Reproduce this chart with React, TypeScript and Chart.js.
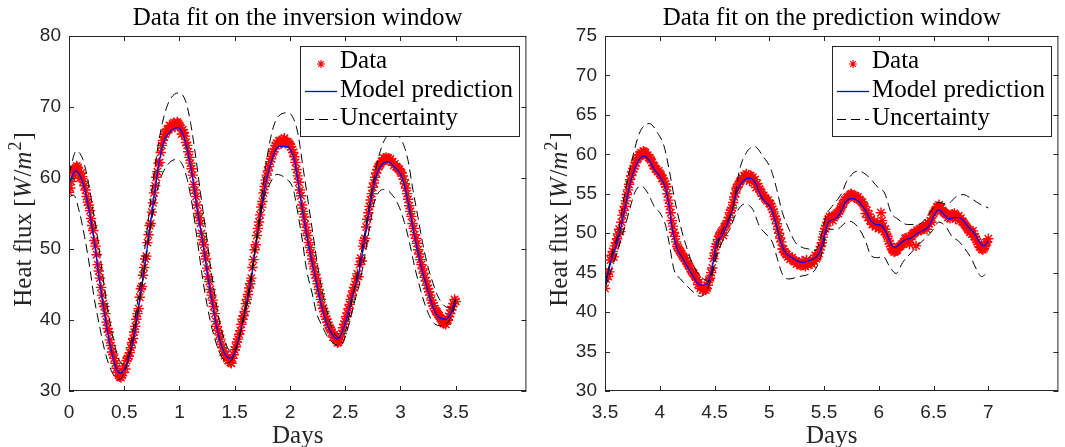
import React, { useEffect, useRef } from "react";
import { Chart, registerables } from "chart.js";

Chart.register(...registerables);

// ---------- tick labels ----------
const LEFT_X_TICKS = [0, 0.5, 1, 1.5, 2, 2.5, 3, 3.5];
const RIGHT_X_TICKS = [3.5, 4, 4.5, 5, 5.5, 6, 6.5, 7];
const LEFT_Y_TICKS = [30, 40, 50, 60, 70, 80];
const RIGHT_Y_TICKS = [30, 35, 40, 45, 50, 55, 60, 65, 70, 75];

// ---------- measured data (two interleaved sample sets, every 0.02 day) ----------
const DATA_STEP = 0.02;
const LEFT_DATA_START = 0;
const leftData = [
  58.0, 59.5, 61.2, 61.4, 61.5, 60.0, 60.2, 58.9, 57.4, 56.2,
  54.3, 52.6, 50.4, 47.8, 45.9, 43.5, 41.9, 39.7, 38.3, 36.4,
  35.2, 33.9, 32.6, 32.0, 32.2, 33.5, 34.3, 34.9, 36.1, 37.4,
  39.1, 40.9, 43.2, 44.7, 47.4, 49.0, 52.0, 53.6, 56.5, 58.9,
  60.9, 62.2, 64.6, 65.8, 66.5, 66.9, 67.3, 67.6, 67.2, 67.9,
  67.4, 66.2, 66.4, 65.0, 63.7, 62.1, 60.4, 58.3, 56.2, 54.4,
  52.2, 50.6, 48.6, 46.1, 44.3, 42.8, 40.9, 39.1, 37.9, 36.6,
  35.6, 35.1, 34.3, 34.0, 34.6, 35.8, 36.9, 38.0, 39.4, 40.6,
  42.3, 43.6, 45.1, 47.4, 49.9, 51.9, 53.8, 55.9, 57.9, 59.7,
  61.0, 62.3, 63.4, 64.1, 64.9, 65.2, 64.8, 65.4, 64.9, 65.1,
  64.7, 64.0, 63.0, 61.2, 59.4, 57.5, 55.3, 53.5, 51.9, 50.2,
  48.6, 47.2, 45.9, 44.3, 42.9, 41.6, 40.5, 39.7, 38.9, 38.3,
  37.9, 37.1, 36.9, 37.6, 38.9, 39.8, 41.0, 42.2, 43.5, 44.6,
  45.8, 46.1, 48.7, 50.4, 51.5, 54.2, 56.0, 57.8, 59.3, 60.7,
  61.6, 62.0, 62.4, 62.7, 62.6, 62.5, 62.2, 61.8, 61.6, 61.3,
  60.9, 60.3, 59.2, 57.8, 56.1, 54.6, 52.9, 51.5, 49.9, 48.5,
  47.2, 46.0, 44.9, 44.0, 42.8, 42.0, 41.3, 40.8, 40.3, 39.8,
  39.6, 39.9, 40.5, 41.4, 42.3, 42.6,
];
const LEFT_DATA2_START = 0.01;
const leftData2 = [
  58.6, 60.8, 60.3, 61.7, 60.9, 60.7, 59.5, 58.3, 56.6, 55.4,
  53.3, 51.2, 49.2, 46.9, 44.6, 42.3, 40.9, 38.8, 37.2, 35.5,
  34.6, 33.2, 32.2, 31.9, 32.6, 33.1, 34.6, 35.4, 36.8, 38.3,
  40.1, 41.6, 44.4, 46.3, 48.6, 50.9, 53.3, 55.2, 57.9, 60.1,
  62.1, 63.6, 65.3, 66.2, 66.8, 67.4, 67.0, 67.8, 67.6, 67.7,
  67.1, 66.8, 65.9, 64.6, 62.9, 61.3, 59.1, 57.4, 55.0, 53.6,
  51.3, 49.4, 47.3, 45.4, 43.5, 41.9, 39.8, 38.5, 37.3, 36.1,
  35.0, 34.6, 34.3, 33.9, 35.1, 36.2, 37.3, 38.5, 40.1, 41.2,
  42.9, 44.5, 45.9, 48.5, 50.6, 52.9, 54.8, 56.7, 58.8, 60.4,
  61.6, 62.7, 63.7, 64.6, 64.8, 65.3, 65.0, 65.6, 65.0, 64.9,
  64.4, 63.6, 62.2, 60.3, 58.3, 56.2, 54.5, 52.6, 50.9, 49.5,
  47.9, 46.4, 45.1, 43.7, 42.1, 41.2, 40.1, 39.2, 38.6, 37.6,
  37.5, 36.8, 37.2, 38.1, 39.4, 40.5, 41.6, 42.9, 44.1, 45.0,
  46.5, 47.8, 48.3, 51.2, 53.1, 55.1, 56.9, 58.7, 60.1, 61.2,
  61.8, 62.3, 62.8, 62.9, 62.8, 62.7, 62.3, 62.0, 61.5, 61.2,
  60.7, 59.8, 58.6, 57.0, 55.3, 53.6, 52.0, 50.8, 49.3, 47.8,
  46.6, 45.5, 44.4, 43.5, 42.4, 41.6, 41.1, 40.6, 40.1, 39.5,
  39.4, 40.0, 40.9, 41.9, 42.9,
];
const RIGHT_DATA_START = 3.5;
const rightData = [
  43.0, 44.9, 45.1, 47.2, 47.0, 48.8, 49.9, 50.2, 52.3, 53.4,
  54.9, 56.2, 57.3, 58.2, 59.0, 59.5, 60.0, 59.9, 60.3, 59.8,
  59.6, 59.3, 58.6, 58.2, 57.8, 57.6, 57.0, 56.6, 55.9, 54.2,
  52.6, 50.9, 49.6, 48.3, 47.8, 47.4, 46.9, 46.5, 46.0, 45.5,
  45.0, 44.6, 44.1, 43.8, 43.2, 42.9, 42.8, 43.4, 44.3, 45.6,
  47.5, 48.6, 49.6, 50.1, 49.7, 51.0, 51.6, 52.6, 53.2, 54.6,
  55.7, 56.2, 56.7, 56.9, 57.3, 57.1, 56.6, 57.0, 56.4, 55.8,
  55.9, 55.3, 54.7, 54.5, 54.1, 53.8, 53.4, 52.7, 51.8, 50.5,
  49.4, 48.0, 47.6, 47.3, 47.1, 46.8, 46.6, 46.4, 46.2, 46.0,
  46.5, 46.1, 46.6, 46.3, 46.2, 46.6, 47.2, 47.0, 47.9, 48.8,
  50.2, 50.9, 51.8, 51.9, 51.6, 52.2, 52.6, 52.8, 53.3, 53.9,
  54.3, 54.6, 54.9, 54.8, 54.5, 54.4, 54.3, 54.0, 53.6, 52.5,
  52.0, 51.6, 51.1, 51.5, 51.0, 50.6, 52.6, 50.9, 50.5, 49.6,
  48.7, 48.0, 47.6, 47.8, 48.2, 48.4, 48.7, 49.3, 49.0, 48.6,
  49.7, 50.0, 48.4, 50.3, 50.4, 50.6, 50.7, 50.5, 51.2, 51.4,
  52.5, 53.0, 53.4, 53.1, 52.9, 52.6, 52.4, 52.1, 52.2, 52.3,
  51.8, 52.1, 51.6, 51.5, 51.2, 50.8, 50.4, 50.2, 50.3, 49.5,
  48.9, 48.3, 48.0, 48.1, 48.8, 49.3,
];
const RIGHT_DATA2_START = 3.51;
const rightData2 = [
  44.2, 44.5, 46.6, 47.7, 48.4, 49.3, 50.5, 51.4, 52.9, 54.1,
  55.5, 56.8, 57.8, 58.5, 59.3, 59.9, 60.2, 60.4, 60.2, 59.9,
  59.5, 59.0, 58.5, 58.1, 57.9, 57.4, 56.9, 56.2, 55.0, 53.4,
  51.6, 50.1, 48.9, 48.1, 47.6, 47.1, 46.8, 46.2, 45.8, 45.2,
  44.9, 44.4, 43.5, 43.0, 42.8, 43.1, 43.0, 44.1, 45.0, 46.8,
  48.3, 49.2, 49.8, 50.3, 50.8, 51.2, 52.0, 52.9, 53.9, 55.1,
  55.9, 56.5, 57.0, 57.3, 57.5, 57.4, 57.3, 57.1, 56.8, 56.3,
  55.6, 55.1, 54.8, 54.3, 54.2, 53.7, 53.0, 52.1, 51.2, 50.0,
  48.9, 48.0, 47.4, 47.0, 46.7, 46.9, 46.4, 46.1, 46.3, 45.9,
  46.0, 45.8, 46.0, 46.4, 46.1, 46.5, 46.8, 47.5, 48.3, 49.5,
  50.6, 51.4, 52.1, 52.1, 52.0, 52.4, 52.5, 53.1, 53.7, 54.2,
  54.5, 54.7, 55.0, 54.8, 54.7, 54.6, 54.2, 53.9, 53.4, 52.9,
  52.4, 51.8, 51.2, 50.8, 51.2, 50.7, 51.6, 50.2, 49.8, 49.0,
  48.3, 47.8, 47.7, 47.9, 48.3, 48.6, 48.9, 49.4, 49.5, 49.2,
  49.9, 50.1, 50.4, 50.5, 50.4, 50.8, 50.9, 51.3, 51.6, 52.3,
  52.8, 53.3, 53.6, 53.2, 52.7, 52.5, 52.0, 51.9, 52.4, 52.5,
  52.1, 52.2, 51.9, 51.4, 51.0, 50.6, 50.1, 49.9, 49.6, 49.2,
  48.6, 48.2, 47.9, 48.3, 48.9,
];

// ---------- model prediction ----------
const leftModelT = [0, 0.06, 0.126, 0.186, 0.23, 0.27, 0.306, 0.35, 0.396, 0.43, 0.465, 0.5, 0.546, 0.59, 0.636, 0.681, 0.726, 0.771, 0.816, 0.861, 0.921, 0.981, 1.026, 1.07, 1.116, 1.16, 1.206, 1.251, 1.296, 1.341, 1.386, 1.453, 1.506, 1.551, 1.596, 1.641, 1.686, 1.731, 1.776, 1.821, 1.866, 1.911, 1.986, 2.0, 2.04, 2.092, 2.137, 2.182, 2.227, 2.272, 2.317, 2.362, 2.43, 2.482, 2.527, 2.572, 2.617, 2.662, 2.707, 2.752, 2.797, 2.887, 2.947, 2.992, 3.031, 3.07, 3.115, 3.16, 3.2, 3.25, 3.29, 3.336, 3.41, 3.457, 3.5];
const leftModelV = [59.2, 61.0, 59.3, 55.1, 50.9, 46.2, 42.4, 38.2, 34.9, 33.05, 32.5, 33.05, 34.9, 37.7, 42.4, 47.1, 52.3, 57.5, 62.2, 65.2, 66.6, 67.1, 66.4, 64.0, 60.3, 55.6, 51.4, 46.7, 42.4, 38.7, 36.1, 34.6, 35.6, 38.2, 41.5, 44.8, 50.0, 54.6, 58.9, 61.7, 63.8, 64.5, 64.4, 64.1, 62.5, 57.5, 53.2, 49.5, 46.2, 42.9, 40.3, 38.5, 37.3, 38.7, 41.0, 43.8, 46.2, 50.0, 54.4, 58.4, 61.0, 62.3, 61.5, 60.8, 59.3, 56.5, 52.8, 49.5, 46.7, 44.1, 42.0, 40.6, 40.1, 41.0, 43.0];
const rightModelT = [3.5, 3.56, 3.62, 3.68, 3.725, 3.77, 3.815, 3.86, 3.905, 3.95, 4.01, 4.055, 4.085, 4.115, 4.16, 4.205, 4.25, 4.295, 4.34, 4.385, 4.43, 4.475, 4.52, 4.565, 4.61, 4.655, 4.7, 4.76, 4.826, 4.88, 4.925, 4.97, 5.015, 5.06, 5.105, 5.15, 5.21, 5.255, 5.3, 5.36, 5.42, 5.465, 5.505, 5.543, 5.603, 5.648, 5.693, 5.753, 5.813, 5.873, 5.933, 5.978, 6.023, 6.068, 6.113, 6.143, 6.188, 6.233, 6.293, 6.353, 6.413, 6.458, 6.503, 6.548, 6.593, 6.638, 6.698, 6.758, 6.818, 6.878, 6.923, 6.958, 7.0];
const rightModelV = [43.3, 46.7, 49.2, 53.0, 56.0, 58.1, 59.4, 59.8, 59.2, 58.1, 57.0, 55.6, 53.4, 50.5, 48.0, 46.9, 45.8, 44.8, 43.7, 43.4, 43.5, 45.4, 48.8, 49.6, 50.9, 52.6, 55.1, 56.6, 57.0, 56.2, 54.7, 53.9, 53.2, 51.3, 48.8, 47.5, 46.9, 46.5, 46.3, 46.5, 46.9, 47.7, 49.8, 51.5, 51.8, 52.6, 53.9, 54.4, 54.1, 53.0, 51.5, 51.1, 51.0, 50.1, 48.6, 48.2, 48.6, 49.1, 49.4, 50.0, 50.4, 50.9, 52.2, 53.0, 52.4, 51.8, 52.0, 51.8, 50.8, 49.9, 48.8, 48.4, 49.0];

// ---------- uncertainty bounds ----------
const leftUpperT = [0, 0.066, 0.126, 0.17, 0.216, 0.26, 0.306, 0.35, 0.396, 0.44, 0.486, 0.53, 0.576, 0.62, 0.666, 0.711, 0.756, 0.801, 0.846, 0.906, 0.996, 1.056, 1.1, 1.146, 1.19, 1.236, 1.28, 1.326, 1.37, 1.416, 1.461, 1.521, 1.566, 1.626, 1.686, 1.731, 1.776, 1.836, 1.896, 1.986, 2.046, 2.076, 2.121, 2.166, 2.211, 2.256, 2.301, 2.346, 2.406, 2.466, 2.512, 2.557, 2.617, 2.677, 2.737, 2.797, 2.857, 2.932, 3.007, 3.067, 3.112, 3.157, 3.2, 3.247, 3.292, 3.337, 3.397, 3.457, 3.5];
const leftUpperV = [60.5, 63.8, 62.6, 59.8, 55.6, 51.4, 46.2, 41.5, 37.7, 34.9, 33.8, 34.7, 38.2, 42.4, 47.6, 53.2, 58.9, 64.0, 67.8, 70.8, 72.0, 70.8, 67.8, 63.1, 57.9, 52.8, 47.6, 42.9, 39.2, 36.8, 35.6, 36.6, 39.2, 43.4, 50.0, 55.6, 61.2, 66.4, 68.7, 69.2, 67.8, 65.9, 61.2, 56.5, 51.8, 47.1, 43.4, 40.6, 38.0, 37.5, 38.9, 42.4, 47.1, 52.3, 57.9, 62.6, 65.4, 66.2, 65.4, 62.6, 58.4, 54.6, 50.9, 47.6, 45.3, 43.4, 42.0, 41.7, 42.9];
const leftLowerT = [0, 0.04, 0.096, 0.14, 0.186, 0.23, 0.276, 0.32, 0.366, 0.41, 0.456, 0.5, 0.546, 0.59, 0.636, 0.681, 0.726, 0.771, 0.816, 0.876, 0.966, 1.026, 1.07, 1.116, 1.16, 1.206, 1.251, 1.296, 1.341, 1.386, 1.44, 1.491, 1.536, 1.581, 1.626, 1.671, 1.716, 1.761, 1.821, 1.881, 1.956, 2.03, 2.065, 2.11, 2.15, 2.2, 2.24, 2.29, 2.346, 2.406, 2.45, 2.497, 2.542, 2.587, 2.632, 2.677, 2.722, 2.767, 2.857, 2.932, 2.992, 3.037, 3.082, 3.127, 3.172, 3.217, 3.262, 3.307, 3.367, 3.427, 3.472, 3.5];
const leftLowerV = [57.3, 57.6, 55.1, 51.8, 47.6, 42.9, 39.2, 35.9, 33.5, 32.1, 31.6, 32.6, 34.9, 38.2, 42.4, 47.1, 51.8, 56.1, 59.3, 61.5, 62.6, 61.9, 59.8, 56.1, 51.4, 46.2, 42.0, 38.7, 36.3, 34.7, 34.0, 34.9, 37.3, 40.6, 44.3, 48.5, 53.0, 57.0, 59.3, 60.5, 60.0, 58.4, 55.6, 51.4, 47.1, 43.8, 41.0, 39.2, 37.5, 36.6, 36.4, 37.5, 39.9, 42.7, 45.3, 49.0, 53.2, 56.8, 58.4, 57.5, 55.8, 53.7, 50.9, 47.6, 44.8, 42.4, 40.6, 39.5, 39.2, 39.6, 41.0, 42.4];
const rightUpperT = [3.5, 3.56, 3.62, 3.68, 3.74, 3.815, 3.905, 3.98, 4.04, 4.085, 4.13, 4.19, 4.25, 4.31, 4.37, 4.445, 4.49, 4.55, 4.61, 4.67, 4.73, 4.79, 4.865, 4.94, 5.015, 5.06, 5.12, 5.18, 5.24, 5.3, 5.36, 5.42, 5.47, 5.52, 5.573, 5.663, 5.708, 5.813, 5.903, 5.993, 6.053, 6.113, 6.173, 6.263, 6.353, 6.428, 6.488, 6.548, 6.623, 6.713, 6.773, 6.833, 6.923, 7.0];
const rightUpperV = [43.5, 47.2, 50.0, 55.0, 58.9, 62.7, 63.9, 62.7, 61.0, 58.1, 54.7, 50.9, 48.0, 45.8, 44.6, 43.9, 45.8, 49.6, 51.3, 53.4, 58.1, 60.2, 61.0, 59.8, 58.1, 56.0, 52.6, 50.5, 48.8, 48.2, 48.0, 47.8, 49.5, 52.3, 53.4, 55.1, 56.6, 57.9, 57.2, 55.8, 55.1, 52.6, 51.8, 51.1, 51.1, 51.8, 53.0, 53.9, 53.7, 54.7, 54.9, 54.5, 53.7, 53.2];
const rightLowerT = [3.5, 3.56, 3.62, 3.71, 3.77, 3.83, 3.89, 3.95, 4.01, 4.055, 4.085, 4.13, 4.19, 4.25, 4.31, 4.37, 4.43, 4.475, 4.52, 4.58, 4.64, 4.7, 4.775, 4.85, 4.91, 4.97, 5.03, 5.075, 5.12, 5.18, 5.27, 5.36, 5.42, 5.48, 5.52, 5.558, 5.618, 5.693, 5.738, 5.813, 5.873, 5.933, 5.993, 6.038, 6.098, 6.158, 6.218, 6.293, 6.353, 6.428, 6.488, 6.548, 6.608, 6.668, 6.728, 6.788, 6.848, 6.893, 6.938, 7.0];
const rightLowerV = [43.0, 45.5, 48.0, 52.2, 55.1, 56.0, 55.1, 53.4, 52.4, 50.9, 48.8, 45.4, 44.2, 43.3, 42.5, 42.0, 42.7, 44.6, 47.1, 49.2, 50.5, 52.6, 53.7, 53.0, 50.9, 49.9, 48.8, 46.7, 44.8, 44.2, 44.5, 44.8, 45.4, 47.5, 50.0, 50.5, 50.5, 51.3, 51.5, 50.7, 49.2, 47.1, 46.9, 47.1, 45.8, 44.9, 46.3, 47.5, 48.4, 49.4, 50.3, 51.4, 50.9, 49.6, 49.0, 48.0, 46.7, 45.4, 44.5, 45.2];

// ---------- appearance ----------
const AXIS_COLOR = "#262626";
const SERIF = '"Liberation Serif", "Times New Roman", serif';
const SANS = '"Liberation Sans", Arial, sans-serif';
const CANVAS_H = 447;

type PanelCfg = {
  title: string;
  canvasLeft: number;
  canvasWidth: number;
  areaLeft: number;
  padRight: number;
  xMin: number;
  xMax: number;
  yMin: number;
  yMax: number;
  xTicks: number[];
  yTicks: number[];
  dataStart: number;
  data: number[];
  data2Start: number;
  data2: number[];
  modelT: number[];
  modelV: number[];
  upT: number[];
  upV: number[];
  loT: number[];
  loV: number[];
};

const PANELS: PanelCfg[] = [
  {
    title: "Data fit on the inversion window",
    canvasLeft: 0, canvasWidth: 533, areaLeft: 69, padRight: 4,
    xMin: 0, xMax: 4.14, yMin: 30, yMax: 80,
    xTicks: LEFT_X_TICKS, yTicks: LEFT_Y_TICKS,
    dataStart: LEFT_DATA_START, data: leftData,
    data2Start: LEFT_DATA2_START, data2: leftData2,
    modelT: leftModelT, modelV: leftModelV,
    upT: leftUpperT, upV: leftUpperV, loT: leftLowerT, loV: leftLowerV,
  },
  {
    title: "Data fit on the prediction window",
    canvasLeft: 533, canvasWidth: 532, areaLeft: 72, padRight: 1,
    xMin: 3.5, xMax: 7.64, yMin: 30, yMax: 75,
    xTicks: RIGHT_X_TICKS, yTicks: RIGHT_Y_TICKS,
    dataStart: RIGHT_DATA_START, data: rightData,
    data2Start: RIGHT_DATA2_START, data2: rightData2,
    modelT: rightModelT, modelV: rightModelV,
    upT: rightUpperT, upV: rightUpperV, loT: rightLowerT, loV: rightLowerV,
  },
];

function drawStar(ctx: CanvasRenderingContext2D, x: number, y: number, r: number) {
  ctx.beginPath();
  ctx.moveTo(x - r, y); ctx.lineTo(x + r, y);
  ctx.moveTo(x, y - r); ctx.lineTo(x, y + r);
  const d = r * Math.SQRT1_2;
  ctx.moveTo(x - d, y - d); ctx.lineTo(x + d, y + d);
  ctx.moveTo(x - d, y + d); ctx.lineTo(x + d, y - d);
  ctx.stroke();
}

function drawYLabel(ctx: CanvasRenderingContext2D, x: number, cy: number, size: number) {
  const normal = `${size}px ${SERIF}`;
  const italic = `italic ${size}px ${SERIF}`;
  const sup = `${Math.round(size * 0.7)}px ${SERIF}`;
  const parts = [
    { t: "Heat flux [", f: normal, dy: 0, kern: 0 },
    { t: "W", f: italic, dy: 0, kern: 1 },
    { t: "/", f: normal, dy: 0, kern: 0 },
    { t: "m", f: italic, dy: 0, kern: 1 },
    { t: "2", f: sup, dy: -size * 0.42, kern: 1 },
    { t: "]", f: normal, dy: 0, kern: 0 },
  ];
  let total = 0;
  const widths = parts.map((p) => {
    ctx.font = p.f;
    const w = ctx.measureText(p.t).width + p.kern;
    total += w;
    return w;
  });
  ctx.save();
  ctx.translate(x, cy);
  ctx.rotate(-Math.PI / 2);
  ctx.fillStyle = AXIS_COLOR;
  ctx.textAlign = "left";
  ctx.textBaseline = "alphabetic";
  let px = -total / 2;
  parts.forEach((p, i) => {
    ctx.font = p.f;
    ctx.fillText(p.t, px, p.dy);
    px += widths[i];
  });
  ctx.restore();
}

function makeDecor(p: PanelCfg) {
  return {
    id: "decor",
    afterDraw(chart: any) {
      const { ctx, chartArea: a, scales } = chart;
      const xs = scales.x;
      const ys = scales.y;
      ctx.save();
      ctx.strokeStyle = AXIS_COLOR;
      ctx.lineWidth = 1;
      ctx.setLineDash([]);
      ctx.strokeRect(a.left + 0.5, a.top + 0.5, a.width - 1, a.height - 1);
      const TL = 5;
      ctx.beginPath();
      p.xTicks.forEach((v) => {
        const px = Math.round(xs.getPixelForValue(v)) + 0.5;
        ctx.moveTo(px, a.bottom); ctx.lineTo(px, a.bottom - TL);
        ctx.moveTo(px, a.top); ctx.lineTo(px, a.top + TL);
      });
      p.yTicks.forEach((v) => {
        const py = Math.round(ys.getPixelForValue(v)) + 0.5;
        ctx.moveTo(a.left, py); ctx.lineTo(a.left + TL, py);
        ctx.moveTo(a.right, py); ctx.lineTo(a.right - TL, py);
      });
      ctx.stroke();

      const cx = (a.left + a.right) / 2;
      ctx.fillStyle = "#000000";
      ctx.font = `25px ${SERIF}`;
      ctx.textAlign = "center";
      ctx.textBaseline = "alphabetic";
      ctx.fillText(p.title, cx, 25);
      ctx.fillStyle = AXIS_COLOR;
      ctx.fillText("Days", cx, 443);
      drawYLabel(ctx, a.left - 38, (a.top + a.bottom) / 2 + 6, 25);

      // legend
      const lw = 219, lh = 90;
      const lx = Math.round(a.right - 7 - lw);
      const ly = Math.round(a.top + 10);
      ctx.fillStyle = "#ffffff";
      ctx.fillRect(lx, ly, lw, lh);
      ctx.strokeStyle = AXIS_COLOR;
      ctx.lineWidth = 1;
      ctx.strokeRect(lx + 0.5, ly + 0.5, lw, lh);
      ctx.font = `25px ${SERIF}`;
      ctx.textAlign = "left";
      ctx.fillStyle = "#000000";
      ctx.strokeStyle = "#ff0000";
      ctx.lineWidth = 1.2;
      drawStar(ctx, lx + 21, ly + 18, 4);
      ctx.fillText("Data", lx + 40, ly + 22);
      ctx.strokeStyle = "#0000ff";
      ctx.lineWidth = 1.3;
      ctx.beginPath();
      ctx.moveTo(lx + 5, ly + 45.5); ctx.lineTo(lx + 37, ly + 45.5);
      ctx.stroke();
      ctx.fillText("Model prediction", lx + 40, ly + 51);
      ctx.strokeStyle = "#000000";
      ctx.lineWidth = 1;
      ctx.setLineDash([9, 5]);
      ctx.beginPath();
      ctx.moveTo(lx + 5, ly + 73.5); ctx.lineTo(lx + 37, ly + 73.5);
      ctx.stroke();
      ctx.setLineDash([]);
      ctx.fillText("Uncertainty", lx + 40, ly + 79);
      ctx.restore();
    },
  };
}

function zip(t: number[], v: number[]) {
  return t.map((x, i) => ({ x, y: v[i] }));
}

function samples(start: number, values: number[]) {
  return values.map((y, i) => ({ x: +(start + i * DATA_STEP).toFixed(2), y }));
}

function Panel({ cfg }: { cfg: PanelCfg }) {
  const ref = useRef<HTMLCanvasElement>(null);
  useEffect(() => {
    if (!ref.current) return;
    const dataPts = [...samples(cfg.dataStart, cfg.data), ...samples(cfg.data2Start, cfg.data2)].sort((p, q) => p.x - q.x);
    const tickFont = { family: SANS, size: 19 };
    const lineCommon = { showLine: true, pointRadius: 0, borderWidth: 1, cubicInterpolationMode: "monotone" };
    const chart = new Chart(ref.current, {
      type: "scatter",
      data: {
        datasets: [
          {
            label: "Data",
            data: dataPts,
            showLine: false,
            pointStyle: "star",
            pointRadius: 5.2,
            pointBorderWidth: 1.4,
            pointBorderColor: "#ff0000",
            pointBackgroundColor: "#ff0000",
            borderColor: "#ff0000",
            order: 3,
          } as any,
          {
            ...lineCommon,
            label: "Model prediction",
            data: zip(cfg.modelT, cfg.modelV),
            borderColor: "#0000ff",
            borderWidth: 1.3,
            order: 2,
          } as any,
          {
            ...lineCommon,
            label: "Uncertainty",
            data: zip(cfg.upT, cfg.upV),
            borderColor: "#000000",
            borderDash: [9, 5],
            order: 1,
          } as any,
          {
            ...lineCommon,
            label: "Uncertainty lower",
            data: zip(cfg.loT, cfg.loV),
            borderColor: "#000000",
            borderDash: [9, 5],
            order: 1,
          } as any,
        ],
      },
      options: {
        responsive: false,
        animation: false,
        devicePixelRatio: 1,
        events: [],
        layout: { padding: { top: 36, right: cfg.padRight, left: 0, bottom: 0 } },
        plugins: { legend: { display: false }, tooltip: { enabled: false }, title: { display: false } },
        scales: {
          x: {
            type: "linear",
            min: cfg.xMin,
            max: cfg.xMax,
            afterBuildTicks: (s: any) => { s.ticks = cfg.xTicks.map((value) => ({ value })); },
            afterFit: (s: any) => { s.height = CANVAS_H - 391; },
            grid: { display: false, drawTicks: false },
            border: { display: false },
            ticks: {
              autoSkip: false,
              maxRotation: 0,
              padding: 10,
              color: AXIS_COLOR,
              font: tickFont,
              callback: (v: any) => String(v),
            },
          },
          y: {
            type: "linear",
            min: cfg.yMin,
            max: cfg.yMax,
            afterBuildTicks: (s: any) => { s.ticks = cfg.yTicks.map((value) => ({ value })); },
            afterFit: (s: any) => { s.width = cfg.areaLeft; },
            grid: { display: false, drawTicks: false },
            border: { display: false },
            ticks: {
              autoSkip: false,
              padding: 8,
              color: AXIS_COLOR,
              font: tickFont,
              callback: (v: any) => String(v),
            },
          },
        },
      } as any,
      plugins: [makeDecor(cfg)],
    });
    return () => chart.destroy();
  }, [cfg]);
  return (
    <canvas
      ref={ref}
      width={cfg.canvasWidth}
      height={CANVAS_H}
      style={{ position: "absolute", left: cfg.canvasLeft, top: 0, width: cfg.canvasWidth, height: CANVAS_H }}
    />
  );
}

export default function App() {
  return (
    <div style={{ position: "absolute", left: 0, top: 0, width: 1065, height: CANVAS_H, background: "#ffffff" }}>
      {PANELS.map((p, i) => (
        <Panel key={i} cfg={p} />
      ))}
    </div>
  );
}
